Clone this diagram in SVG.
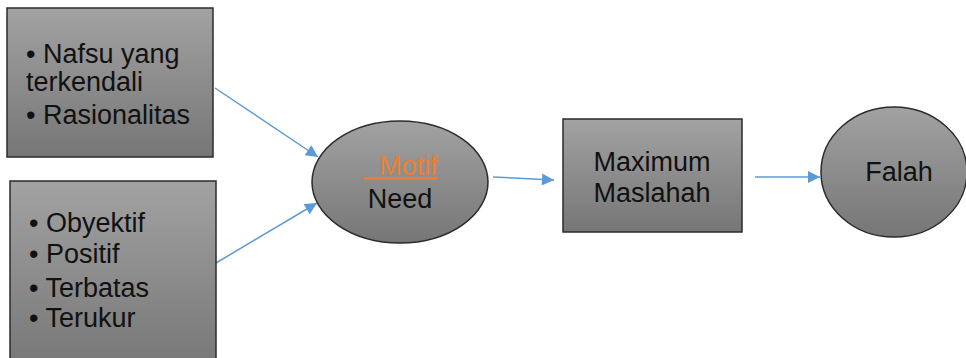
<svg xmlns="http://www.w3.org/2000/svg" width="966" height="358" viewBox="0 0 966 358">
<defs>
<linearGradient id="g" x1="0" y1="0" x2="0" y2="1">
<stop offset="0" stop-color="#a2a2a2"/>
<stop offset="1" stop-color="#767676"/>
</linearGradient>
<marker id="ah" viewBox="0 0 10 10" refX="10" refY="5" markerWidth="15" markerHeight="12" markerUnits="userSpaceOnUse" orient="auto">
<path d="M0,0 L10,5 L0,10 z" fill="#5b9bd5"/>
</marker>
</defs>
<style>
.shape{fill:url(#g);stroke:#2b2b2b;stroke-width:1.5}
.t{font-family:"Liberation Sans",Arial,sans-serif;font-size:27px;fill:#111}
.c{text-anchor:middle}
.conn{stroke:#5b9bd5;stroke-width:1.5;fill:none;marker-end:url(#ah)}
.mo{fill:#ed7d31;text-decoration:underline}
</style>
<rect width="966" height="358" fill="#fff"/>
<g id="connectors">
<line class="conn" x1="215" y1="88" x2="318" y2="157"/>
<line class="conn" x1="216" y1="263" x2="317" y2="203"/>
<line class="conn" x1="493" y1="177" x2="554" y2="180"/>
<line class="conn" x1="755" y1="177" x2="820" y2="177"/>
</g>
<g id="box1">
<rect class="shape" x="7" y="8" width="206" height="149"/>
<text class="t" x="26" y="63">• Nafsu yang</text>
<text class="t" x="26" y="91">terkendali</text>
<text class="t" x="26" y="124">• Rasionalitas</text>
</g>
<g id="box2">
<rect class="shape" x="10" y="181" width="206" height="190"/>
<text class="t" x="29" y="232">• Obyektif</text>
<text class="t" x="29" y="263">• Positif</text>
<text class="t" x="29" y="297">• Terbatas</text>
<text class="t" x="29" y="327">• Terukur</text>
</g>
<g id="motif">
<ellipse class="shape" cx="400" cy="182" rx="88" ry="61"/>
<text class="t mo" x="364" y="175" xml:space="preserve">  Motif</text>
<text class="t c" x="400" y="208">Need</text>
</g>
<g id="maslahah">
<rect class="shape" x="563" y="119" width="179" height="113"/>
<text class="t c" x="652" y="171">Maximum</text>
<text class="t c" x="652" y="202">Maslahah</text>
</g>
<g id="falah">
<ellipse class="shape" cx="894" cy="172" rx="73" ry="65"/>
<text class="t c" x="899" y="181">Falah</text>
</g>
</svg>
